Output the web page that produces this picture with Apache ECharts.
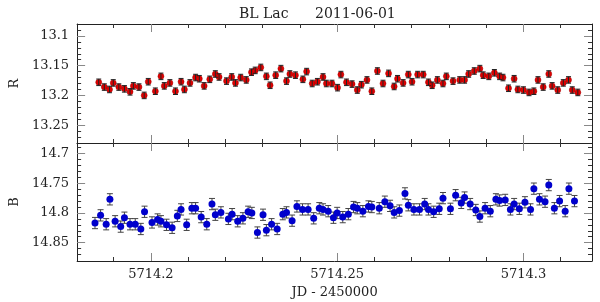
<!DOCTYPE html>
<html>
<head>
<meta charset="utf-8">
<script src="https://cdn.jsdelivr.net/npm/echarts@6/dist/echarts.min.js"></script>
<style>
  html, body { margin: 0; padding: 0; background: #fff; }
  #chart { width: 600px; height: 302px; }
</style>
</head>
<body>
<div id="chart"></div>
<script>
// R band (top panel)
const rJd = [
  5714.1860, 5714.1875, 5714.1889, 5714.1899, 5714.1914, 5714.1929, 5714.1944, 5714.1953, 5714.1968, 5714.1982,
  5714.1993, 5714.2012, 5714.2027, 5714.2036, 5714.2051, 5714.2066, 5714.2081, 5714.2090, 5714.2105, 5714.2120,
  5714.2130, 5714.2143, 5714.2158, 5714.2173, 5714.2183, 5714.2203, 5714.2217, 5714.2227, 5714.2241, 5714.2256,
  5714.2270, 5714.2280, 5714.2295, 5714.2310, 5714.2320, 5714.2335, 5714.2349, 5714.2364, 5714.2373, 5714.2388,
  5714.2408, 5714.2418, 5714.2433, 5714.2447, 5714.2462, 5714.2471, 5714.2486, 5714.2501, 5714.2510, 5714.2525,
  5714.2540, 5714.2554, 5714.2565, 5714.2580, 5714.2593, 5714.2608, 5714.2623, 5714.2638, 5714.2653, 5714.2662,
  5714.2677, 5714.2691, 5714.2701, 5714.2716, 5714.2731, 5714.2745, 5714.2755, 5714.2769, 5714.2784, 5714.2793,
  5714.2811, 5714.2829, 5714.2842, 5714.2853, 5714.2868, 5714.2883, 5714.2892, 5714.2907, 5714.2922, 5714.2936,
  5714.2945, 5714.2960, 5714.2975, 5714.2985, 5714.3000, 5714.3015, 5714.3028, 5714.3039, 5714.3053, 5714.3068,
  5714.3077, 5714.3092, 5714.3107, 5714.3121, 5714.3131, 5714.3146
]
const rMag = [
  13.178, 13.186, 13.190, 13.179, 13.186, 13.189, 13.194, 13.184, 13.186, 13.200,
  13.177, 13.193, 13.168, 13.184, 13.179, 13.193, 13.177, 13.190, 13.179, 13.170,
  13.172, 13.184, 13.173, 13.164, 13.169, 13.176, 13.169, 13.179, 13.170, 13.174,
  13.161, 13.158, 13.153, 13.168, 13.183, 13.166, 13.155, 13.176, 13.164, 13.166,
  13.173, 13.160, 13.180, 13.177, 13.169, 13.180, 13.180, 13.187, 13.165, 13.178,
  13.181, 13.191, 13.182, 13.174, 13.193, 13.159, 13.180, 13.163, 13.185, 13.172,
  13.179, 13.165, 13.177, 13.165, 13.165, 13.178, 13.183, 13.174, 13.180, 13.168,
  13.176, 13.174, 13.174, 13.164, 13.159, 13.155, 13.166, 13.168, 13.162, 13.168,
  13.170, 13.188, 13.172, 13.190, 13.191, 13.195, 13.193, 13.174, 13.186, 13.164,
  13.184, 13.191, 13.179, 13.174, 13.191, 13.195
]
const rErr = 0.0055

// B band (bottom panel)
const bJd = [
  5714.1850, 5714.1865, 5714.1880, 5714.1890, 5714.1904, 5714.1919, 5714.1929, 5714.1944, 5714.1958, 5714.1973,
  5714.1983, 5714.2003, 5714.2018, 5714.2027, 5714.2042, 5714.2057, 5714.2071, 5714.2081, 5714.2096, 5714.2110,
  5714.2120, 5714.2135, 5714.2150, 5714.2164, 5714.2173, 5714.2188, 5714.2208, 5714.2218, 5714.2233, 5714.2247,
  5714.2261, 5714.2271, 5714.2286, 5714.2301, 5714.2310, 5714.2324, 5714.2339, 5714.2354, 5714.2364, 5714.2379,
  5714.2392, 5714.2407, 5714.2422, 5714.2437, 5714.2452, 5714.2462, 5714.2476, 5714.2490, 5714.2500, 5714.2515,
  5714.2530, 5714.2544, 5714.2554, 5714.2569, 5714.2584, 5714.2593, 5714.2613, 5714.2628, 5714.2642, 5714.2653,
  5714.2667, 5714.2682, 5714.2691, 5714.2706, 5714.2721, 5714.2735, 5714.2745, 5714.2759, 5714.2774, 5714.2784,
  5714.2804, 5714.2818, 5714.2833, 5714.2842, 5714.2857, 5714.2872, 5714.2883, 5714.2897, 5714.2911, 5714.2926,
  5714.2936, 5714.2951, 5714.2965, 5714.2975, 5714.2989, 5714.3004, 5714.3019, 5714.3028, 5714.3043, 5714.3058,
  5714.3068, 5714.3083, 5714.3097, 5714.3112, 5714.3122, 5714.3137
]
const bMag = [
  14.817, 14.804, 14.819, 14.777, 14.814, 14.823, 14.808, 14.819, 14.819, 14.827,
  14.798, 14.816, 14.811, 14.814, 14.820, 14.825, 14.805, 14.794, 14.820, 14.792,
  14.792, 14.807, 14.819, 14.785, 14.803, 14.799, 14.810, 14.802, 14.814, 14.809,
  14.798, 14.800, 14.833, 14.803, 14.829, 14.819, 14.827, 14.802, 14.799, 14.813,
  14.789, 14.794, 14.794, 14.809, 14.792, 14.794, 14.797, 14.808, 14.800, 14.807,
  14.802, 14.790, 14.792, 14.797, 14.789, 14.790, 14.792, 14.781, 14.788, 14.799,
  14.796, 14.767, 14.787, 14.794, 14.794, 14.785, 14.794, 14.798, 14.793, 14.775,
  14.793, 14.770, 14.783, 14.774, 14.785, 14.795, 14.806, 14.792, 14.797, 14.777,
  14.779, 14.778, 14.794, 14.785, 14.793, 14.782, 14.794, 14.759, 14.777, 14.781,
  14.753, 14.792, 14.780, 14.797, 14.759, 14.780
]
const bErr = 0.0095

// axis ranges and ticks
const jdRange = [5714.1802, 5714.3184]
const jdMajor = [5714.2, 5714.25, 5714.3]
const jdMinor = [5714.19, 5714.21, 5714.22, 5714.23, 5714.24, 5714.26, 5714.27, 5714.28, 5714.29, 5714.31]
const rRange = [13.08, 13.28]
const rMajor = [13.1, 13.15, 13.2, 13.25]
const rMinor = [13.09, 13.11, 13.12, 13.13, 13.14, 13.16, 13.17, 13.18, 13.19, 13.21, 13.22, 13.23, 13.24, 13.26, 13.27]
const bRange = [14.682, 14.881]
const bMajor = [14.7, 14.75, 14.8, 14.85]
const bMinor = [14.69, 14.71, 14.72, 14.73, 14.74, 14.76, 14.77, 14.78, 14.79, 14.81, 14.82, 14.83, 14.84, 14.86, 14.87]

const font = 'DejaVu Serif'
const ink = '#222'

function axisPair(dim, gridIndex, range, major, minor, opts) {
  // one major + one minor axis per side, drawn on both sides of the box
  const sides = dim === 'x' ? ['bottom', 'top'] : ['left', 'right']
  const out = []
  sides.forEach((pos, s) => {
    const base = {
      type: 'value',
      gridIndex,
      position: pos,
      min: range[0],
      max: range[1],
      inverse: dim === 'y',
      splitLine: { show: false },
      axisLine: { show: false },
      axisLabel: { show: false }
    }
    const isMain = s === 0
    out.push(Object.assign({}, base, {
      axisLine: { show: true, lineStyle: { color: ink, width: 1 } },
      axisTick: { show: true, inside: true, length: 8, customValues: major, lineStyle: { color: '#888' } },
      axisLabel: {
        show: isMain && opts.labels,
        customValues: major,
        formatter: v => String(+(+v).toFixed(4)),
        color: ink,
        fontFamily: font,
        fontSize: 13,
        margin: dim === 'x' ? 7 : 8
      },
      name: isMain ? opts.name : '',
      nameLocation: 'middle',
      nameGap: opts.nameGap,
      nameRotate: dim === 'y' ? 90 : 0,
      nameTextStyle: { color: ink, fontFamily: font, fontSize: 13 }
    }))
    out.push(Object.assign({}, base, {
      axisTick: { show: true, inside: true, length: 4, customValues: minor, lineStyle: { color: '#333' } }
    }))
  })
  return out
}

function errorBars(axisIndex, jd, mag, err, color, cap, z) {
  return {
    type: 'custom',
    xAxisIndex: axisIndex,
    yAxisIndex: axisIndex,
    z,
    silent: true,
    encode: { x: 0, y: [1, 2] },
    data: jd.map((x, i) => [x, mag[i] - err, mag[i] + err]),
    renderItem(params, api) {
      const a = api.coord([api.value(0), api.value(1)])
      const b = api.coord([api.value(0), api.value(2)])
      const style = { stroke: color, lineWidth: 1 }
      return {
        type: 'group',
        children: [
          { type: 'line', shape: { x1: a[0], y1: a[1], x2: b[0], y2: b[1] }, style },
          { type: 'line', shape: { x1: a[0] - cap, y1: a[1], x2: a[0] + cap, y2: a[1] }, style },
          { type: 'line', shape: { x1: b[0] - cap, y1: b[1], x2: b[0] + cap, y2: b[1] }, style }
        ]
      }
    }
  }
}

const chart = echarts.init(document.getElementById('chart'))
chart.setOption({
  animation: false,
  backgroundColor: '#fff',
  title: [
    { text: 'BL Lac', left: 234, top: 2, textStyle: { fontFamily: font, fontSize: 14, fontWeight: 'normal', color: ink } },
    { text: '2011-06-01', left: 310, top: 2, textStyle: { fontFamily: font, fontSize: 14, fontWeight: 'normal', color: ink } }
  ],
  grid: [
    { left: 65, right: 8, top: 24, height: 119 },
    { left: 65, right: 8, top: 143, height: 118 }
  ],
  xAxis: [
    ...axisPair('x', 0, jdRange, jdMajor, jdMinor, { labels: false }),
    ...axisPair('x', 1, jdRange, jdMajor, jdMinor, { labels: true, name: 'JD - 2450000', nameGap: 25 })
  ],
  yAxis: [
    ...axisPair('y', 0, rRange, rMajor, rMinor, { labels: true, name: 'R', nameGap: 53 }),
    ...axisPair('y', 1, bRange, bMajor, bMinor, { labels: true, name: 'B', nameGap: 53 })
  ],
  series: [
    {
      type: 'scatter',
      xAxisIndex: 0,
      yAxisIndex: 0,
      z: 2,
      symbol: 'circle',
      symbolSize: 6,
      itemStyle: { color: '#e00000', borderColor: '#a00000', borderWidth: 0.5, opacity: 1 },
      data: rJd.map((x, i) => [x, rMag[i]])
    },
    errorBars(0, rJd, rMag, rErr, '#222', 2.5, 3),
    errorBars(4, bJd, bMag, bErr, '#444', 3, 2),
    {
      type: 'scatter',
      xAxisIndex: 4,
      yAxisIndex: 4,
      z: 3,
      symbol: 'circle',
      symbolSize: 7,
      itemStyle: { color: '#0000cc', opacity: 1 },
      data: bJd.map((x, i) => [x, bMag[i]])
    }
  ]
})
</script>
</body>
</html>
